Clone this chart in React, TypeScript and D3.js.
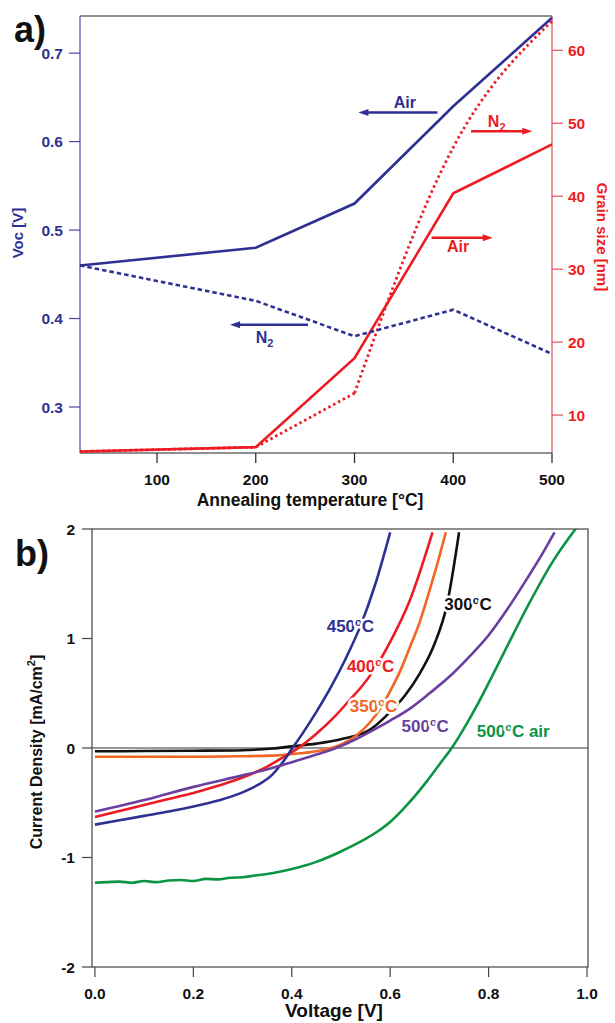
import React from "react";
import * as d3 from "d3";

// ---- panel a: Voc and grain size vs annealing temperature ----
const temps = [22, 200, 300, 400, 500];
const vocAir = [0.46, 0.48, 0.53, 0.64, 0.74];
const vocN2 = [0.46, 0.42, 0.38, 0.41, 0.36];
const grainAir = [5.0, 5.6, 17.8, 40.4, 47.1];
const grainN2 = [5.0, 5.6, 13.0, 46.7, 64.0];
const tempTicks = [100, 200, 300, 400, 500];
const vocTicks = [0.3, 0.4, 0.5, 0.6, 0.7];
const grainTicks = [10, 20, 30, 40, 50, 60];

// ---- panel b: J-V curves ----
const v300 = [0, 0.1, 0.2, 0.3, 0.36, 0.4, 0.45, 0.5, 0.56, 0.6, 0.63, 0.66, 0.69, 0.715, 0.74];
const j300 = [-0.03, -0.028, -0.025, -0.02, -0.005, 0.015, 0.04, 0.08, 0.17, 0.33, 0.48, 0.68, 0.95, 1.3, 1.97];
const v350 = [0, 0.1, 0.2, 0.3, 0.36, 0.4, 0.45, 0.5, 0.53, 0.56, 0.58, 0.6, 0.62, 0.64, 0.66, 0.68, 0.7, 0.713];
const j350 = [-0.08, -0.08, -0.08, -0.075, -0.07, -0.055, -0.03, 0.03, 0.11, 0.24, 0.36, 0.52, 0.7, 0.92, 1.15, 1.44, 1.75, 1.97];
const v400 = [0, 0.05, 0.1, 0.15, 0.2, 0.25, 0.3, 0.35, 0.38, 0.41, 0.45, 0.49, 0.52, 0.54, 0.565, 0.6, 0.64, 0.686];
const j400 = [-0.63, -0.575, -0.52, -0.465, -0.41, -0.345, -0.27, -0.17, -0.09, -0.01, 0.13, 0.3, 0.45, 0.55, 0.7, 0.97, 1.35, 1.97];
const v450 = [0, 0.05, 0.1, 0.15, 0.2, 0.25, 0.3, 0.33, 0.36, 0.38, 0.4, 0.42, 0.45, 0.48, 0.51, 0.54, 0.57, 0.6];
const j450 = [-0.7, -0.66, -0.62, -0.58, -0.535, -0.48, -0.405, -0.34, -0.245, -0.14, -0.01, 0.12, 0.33, 0.56, 0.82, 1.12, 1.5, 1.97];
const v500 = [0, 0.1, 0.2, 0.3, 0.355, 0.4, 0.45, 0.49, 0.53, 0.56, 0.6, 0.64, 0.68, 0.72, 0.76, 0.8, 0.84, 0.88, 0.91, 0.934];
const j500 = [-0.58, -0.475, -0.355, -0.25, -0.19, -0.13, -0.06, 0, 0.08, 0.15, 0.25, 0.36, 0.5, 0.65, 0.83, 1.03, 1.28, 1.56, 1.78, 1.97];
const vAir = [0, 0.025, 0.05, 0.075, 0.1, 0.125, 0.15, 0.175, 0.2, 0.225, 0.25, 0.275, 0.3, 0.325, 0.35, 0.375, 0.4, 0.425, 0.45, 0.475, 0.5, 0.525, 0.55, 0.575, 0.6, 0.625, 0.65, 0.675, 0.7, 0.725, 0.75, 0.78, 0.83, 0.88, 0.93, 0.985];
const jAir = [-1.23, -1.225, -1.22, -1.23, -1.215, -1.225, -1.21, -1.205, -1.215, -1.195, -1.2, -1.185, -1.18, -1.165, -1.15, -1.13, -1.105, -1.075, -1.04, -0.995, -0.945, -0.89, -0.83, -0.76, -0.675, -0.565, -0.44, -0.3, -0.15, 0, 0.18, 0.42, 0.86, 1.3, 1.7, 2.05];
const voltTicks = [0, 0.2, 0.4, 0.6, 0.8, 1.0];
const jTicks = [-2, -1, 0, 1, 2];

const FONT = "'Liberation Sans', Arial, sans-serif";
const BLUE = "#2e3192";
const RED = "#ed1c24";

export default function App() {
  // panel a scales
  const xA = d3.scaleLinear().domain([22, 500]).range([80, 552]);
  const yVoc = d3.scaleLinear().domain([0.248, 0.742]).range([453, 16]);
  const yGrain = d3.scaleLinear().domain([4.8, 64.7]).range([453, 16]);

  const vocLine = d3.line<number>().x((_, i) => xA(temps[i])).y((d) => yVoc(d));
  const grainLine = d3.line<number>().x((_, i) => xA(temps[i])).y((d) => yGrain(d));
  // N2 grain: straight up to 300 °C, then bends over towards 500 °C
  const grainCurve = d3
    .line<number>()
    .x((_, i) => xA(temps[i + 2]))
    .y((d) => yGrain(d))
    .curve(d3.curveMonotoneX);

  // panel b scales
  const xB = d3.scaleLinear().domain([-0.006, 1.002]).range([92, 588]);
  const yB = d3.scaleLinear().domain([-2, 2]).range([967, 529]);
  const jv = d3
    .line<[number, number]>()
    .x((d) => xB(d[0]))
    .y((d) => yB(d[1]))
    .curve(d3.curveMonotoneX);

  const curves = [
    { v: v300, j: j300, color: "#111111" },
    { v: v350, j: j350, color: "#f26522" },
    { v: v400, j: j400, color: RED },
    { v: v450, j: j450, color: BLUE },
    { v: v500, j: j500, color: "#6a3fa0" },
    { v: vAir, j: jAir, color: "#0a9444" },
  ];

  const arrow = (x1: number, x2: number, y: number, color: string) => {
    const dir = x2 > x1 ? 1 : -1;
    return (
      <g>
        <line x1={x1} x2={x2 - dir * 8} y1={y} y2={y} stroke={color} strokeWidth={2.5} />
        <path d={`M${x2},${y} L${x2 - dir * 10},${y - 3.5} L${x2 - dir * 10},${y + 3.5} Z`} fill={color} />
      </g>
    );
  };

  const halo = { stroke: "#fff", strokeWidth: 5, paintOrder: "stroke" as const, strokeLinejoin: "round" as const };

  const degLabel = (t: string, x: number, y: number, color: string, tail = "") => (
    <text x={x} y={y} fill={color} fontSize={17} fontWeight="bold" style={halo}>
      {t}
      <tspan fontSize={11} dy={-6}>o</tspan>
      <tspan dy={6}>C{tail}</tspan>
    </text>
  );

  const TICK = 15.5;

  return (
    <svg
      width={615}
      height={1023}
      style={{ position: "absolute", left: 0, top: 0, background: "#fff" }}
      fontFamily={FONT}
    >
      {/* ================= panel a ================= */}
      <text x={14} y={42} fontSize={36} fontWeight="bold" fill="#111">a)</text>

      <line x1={80} x2={552} y1={16} y2={16} stroke="#222" strokeWidth={1.2} />
      <line x1={80} x2={552} y1={453} y2={453} stroke="#222" strokeWidth={1.2} />
      <line x1={80} x2={80} y1={16} y2={453} stroke="#4a4aa6" strokeWidth={1.2} />
      <line x1={552} x2={552} y1={16} y2={453} stroke="#e0505a" strokeWidth={1.2} />

      {tempTicks.map((t) => (
        <g key={t}>
          <line x1={xA(t)} x2={xA(t)} y1={453} y2={463} stroke="#222" strokeWidth={1.2} />
          <text x={xA(t)} y={485} textAnchor="middle" fontSize={TICK} fontWeight="bold" fill="#111">{t}</text>
        </g>
      ))}
      {vocTicks.map((t) => (
        <g key={t}>
          <line x1={69} x2={80} y1={yVoc(t)} y2={yVoc(t)} stroke="#4a4aa6" strokeWidth={1.2} />
          <text x={63} y={yVoc(t)} dy="0.36em" textAnchor="end" fontSize={TICK} fontWeight="bold" fill={BLUE}>
            {t.toFixed(1)}
          </text>
        </g>
      ))}
      {grainTicks.map((t) => (
        <g key={t}>
          <line x1={552} x2={563} y1={yGrain(t)} y2={yGrain(t)} stroke="#e0505a" strokeWidth={1.2} />
          <text x={568} y={yGrain(t)} dy="0.36em" fontSize={TICK} fontWeight="bold" fill={RED}>{t}</text>
        </g>
      ))}

      <text x={310} y={506} textAnchor="middle" fontSize={17.5} fontWeight="bold" fill="#111">
        Annealing temperature [°C]
      </text>
      <text transform="translate(23,233) rotate(-90)" textAnchor="middle" fontSize={15} fontWeight="bold" fill={BLUE}>
        Voc [V]
      </text>
      <text transform="translate(597,237) rotate(90)" textAnchor="middle" fontSize={15} fontWeight="bold" fill={RED}>
        Grain size [nm]
      </text>

      <path d={grainLine(grainAir) || ""} fill="none" stroke={RED} strokeWidth={2.6} />
      <path d={grainLine(grainN2.slice(0, 3)) || ""} fill="none" stroke={RED} strokeWidth={2.8} strokeDasharray="2.5,3" />
      <path d={grainCurve(grainN2.slice(2)) || ""} fill="none" stroke={RED} strokeWidth={2.8} strokeDasharray="2.5,3" />
      <path d={vocLine(vocAir) || ""} fill="none" stroke={BLUE} strokeWidth={2.6} />
      <path d={vocLine(vocN2) || ""} fill="none" stroke={BLUE} strokeWidth={2.6} strokeDasharray="4.5,3" />

      {arrow(xA(384), xA(304), yVoc(0.633), BLUE)}
      <text x={xA(351)} y={yVoc(0.638)} textAnchor="middle" fontSize={16} fontWeight="bold" fill={BLUE}>Air</text>
      {arrow(xA(253), xA(174), yVoc(0.393), BLUE)}
      <text x={xA(209)} y={yVoc(0.372)} textAnchor="middle" fontSize={16} fontWeight="bold" fill={BLUE}>
        N<tspan fontSize={11} dy={4}>2</tspan>
      </text>
      {arrow(xA(418), xA(480), yGrain(48.9), RED)}
      <text x={xA(444)} y={yGrain(49.5)} textAnchor="middle" fontSize={16} fontWeight="bold" fill={RED}>
        N<tspan fontSize={11} dy={4}>2</tspan>
      </text>
      {arrow(xA(378), xA(440), yGrain(34.3), RED)}
      <text x={xA(405)} y={yGrain(32.4)} textAnchor="middle" fontSize={16} fontWeight="bold" fill={RED}>Air</text>

      {/* ================= panel b ================= */}
      <text x={15} y={566} fontSize={36} fontWeight="bold" fill="#111">b)</text>

      <defs>
        <clipPath id="clipB">
          <rect x={92} y={529} width={496} height={438} />
        </clipPath>
      </defs>

      <line x1={92} x2={588} y1={yB(0)} y2={yB(0)} stroke="#333" strokeWidth={1.2} />
      <g clipPath="url(#clipB)">
        {curves.map((c, i) => (
          <path
            key={i}
            d={jv(c.v.map((v, k) => [v, c.j[k]] as [number, number])) || ""}
            fill="none"
            stroke={c.color}
            strokeWidth={2.6}
          />
        ))}
      </g>
      <rect x={92} y={529} width={496} height={438} fill="none" stroke="#444" strokeWidth={1.2} />

      {voltTicks.map((t) => (
        <g key={t}>
          <line x1={xB(t)} x2={xB(t)} y1={967} y2={977} stroke="#444" strokeWidth={1.2} />
          <text x={xB(t)} y={999} textAnchor="middle" fontSize={TICK} fontWeight="bold" fill="#111">{t.toFixed(1)}</text>
        </g>
      ))}
      {jTicks.map((t) => (
        <g key={t}>
          <line x1={82} x2={92} y1={yB(t)} y2={yB(t)} stroke="#444" strokeWidth={1.2} />
          <text x={75} y={yB(t)} dy="0.36em" textAnchor="end" fontSize={TICK} fontWeight="bold" fill="#111">{t}</text>
        </g>
      ))}

      <text x={334} y={1017} textAnchor="middle" fontSize={19} fontWeight="bold" fill="#111">Voltage [V]</text>
      <text transform="translate(42,752) rotate(-90)" textAnchor="middle" fontSize={16} fontWeight="bold" fill="#111">
        Current Density [mA/cm<tspan fontSize={11} dy={-7}>2</tspan><tspan dy={7}>]</tspan>
      </text>

      {degLabel("450", xB(0.471), yB(1.06), BLUE)}
      {degLabel("400", xB(0.512), yB(0.695), RED)}
      {degLabel("350", xB(0.518), yB(0.33), "#f26522")}
      {degLabel("300", xB(0.71), yB(1.26), "#111111")}
      {degLabel("500", xB(0.623), yB(0.145), "#6a3fa0")}
      {degLabel("500", xB(0.776), yB(0.1), "#0a9444", " air")}
    </svg>
  );
}
